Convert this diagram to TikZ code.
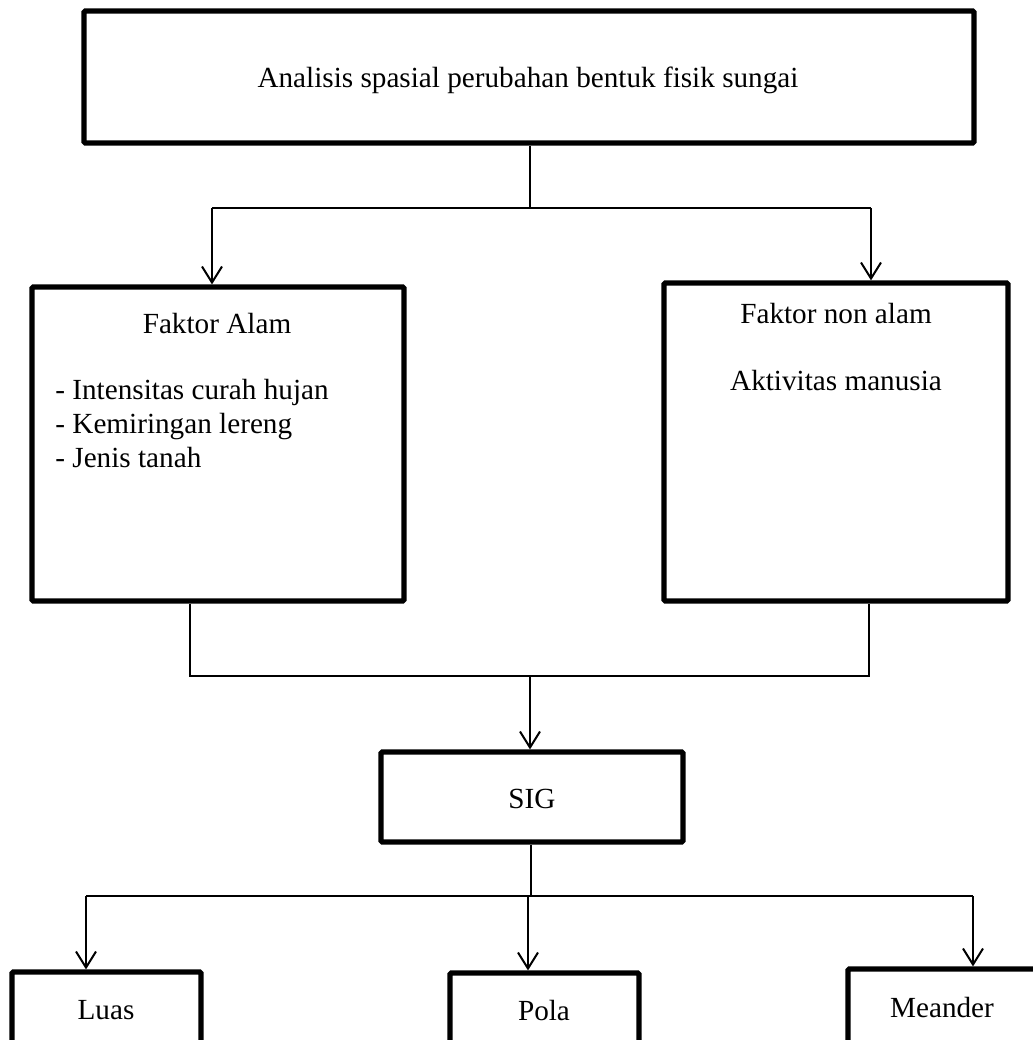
\documentclass[tikz,border=0pt]{standalone}
\usepackage{fontspec}
\setmainfont{Liberation Serif}
\usepackage{tikz}
\usetikzlibrary{arrows.meta}

\tikzset{
  box/.style={draw, line width=2.6pt, inner sep=0, rounded corners=0.6pt},
  lbl/.style={inner sep=0, anchor=base, font=\fontsize{14.6}{17}\selectfont},
  conn/.style={line width=1pt},
  arr/.style={line width=1pt, -{Straight Barb[length=8pt,width=10pt,line width=1pt]}}
}

\begin{document}
\begin{tikzpicture}[x=0.5pt, y=-0.5pt]
  \useasboundingbox (0,0) rectangle (1033,1040);
  \clip (0,0) rectangle (1033,1040);

  % boxes
  \node[box, minimum width=445pt, minimum height=66pt] (top) at (529,77) {};
  \node[box, minimum width=186pt, minimum height=157pt] (alam) at (218,444) {};
  \node[box, minimum width=172pt, minimum height=159pt] (nonalam) at (836,442) {};
  \node[box, minimum width=151pt, minimum height=45pt] (sig) at (532,797) {};
  \node[box, minimum width=94.5pt, minimum height=54pt] (luas) at (106.5,1026) {};
  \node[box, minimum width=94.5pt, minimum height=54pt] (pola) at (544.5,1027) {};
  \node[box, minimum width=94pt, minimum height=54pt] (meander) at (942,1023) {};

  % texts
  \node[lbl] (ttop) at (528,87) {Analisis spasial perubahan bentuk fisik sungai};
  \node[lbl] (talam) at (217,333) {Faktor Alam};
  \foreach \t [count=\i] in {Intensitas curah hujan, Kemiringan lereng, Jenis tanah}
    \node[lbl, anchor=base west] (item\i) at (55,{365+34*\i}) {- \t};
  \node[lbl] (tnonalam) at (836,323) {Faktor non alam};
  \node[lbl] (taktivitas) at (836,390) {Aktivitas manusia};
  \node[lbl] (tsig) at (532,808) {SIG};
  \node[lbl] (tluas) at (106,1019) {Luas};
  \node[lbl] (tpola) at (544,1020) {Pola};
  \node[lbl] (tmeander) at (942,1017) {Meander};

  % top to factors
  \coordinate (s1) at (530,208);
  \coordinate (a1) at (212,208);
  \coordinate (a2) at (871,208);
  \draw[conn] (top.south -| s1) -- (s1);
  \draw[conn] (a1) -- (a2);
  \draw[arr] (a1) -- (a1 |- alam.north);
  \draw[arr] (a2) -- (a2 |- nonalam.north);

  % factors to SIG
  \coordinate (b1) at (190,676);
  \coordinate (b2) at (869,676);
  \coordinate (s2) at (530,676);
  \draw[conn] (b1 |- alam.south) -- (b1) -- (b2) -- (b2 |- nonalam.south);
  \draw[arr] (s2) -- (s2 |- sig.north);

  % SIG to outputs
  \coordinate (s3) at (531,896);
  \coordinate (c1) at (86,896);
  \coordinate (c2) at (528,896);
  \coordinate (c3) at (973,896);
  \draw[conn] (sig.south -| s3) -- (s3);
  \draw[conn] (c1) -- (c3);
  \draw[arr] (c1) -- (c1 |- luas.north);
  \draw[arr] (c2) -- (c2 |- pola.north);
  \draw[arr] (c3) -- (c3 |- meander.north);
\end{tikzpicture}
\end{document}
